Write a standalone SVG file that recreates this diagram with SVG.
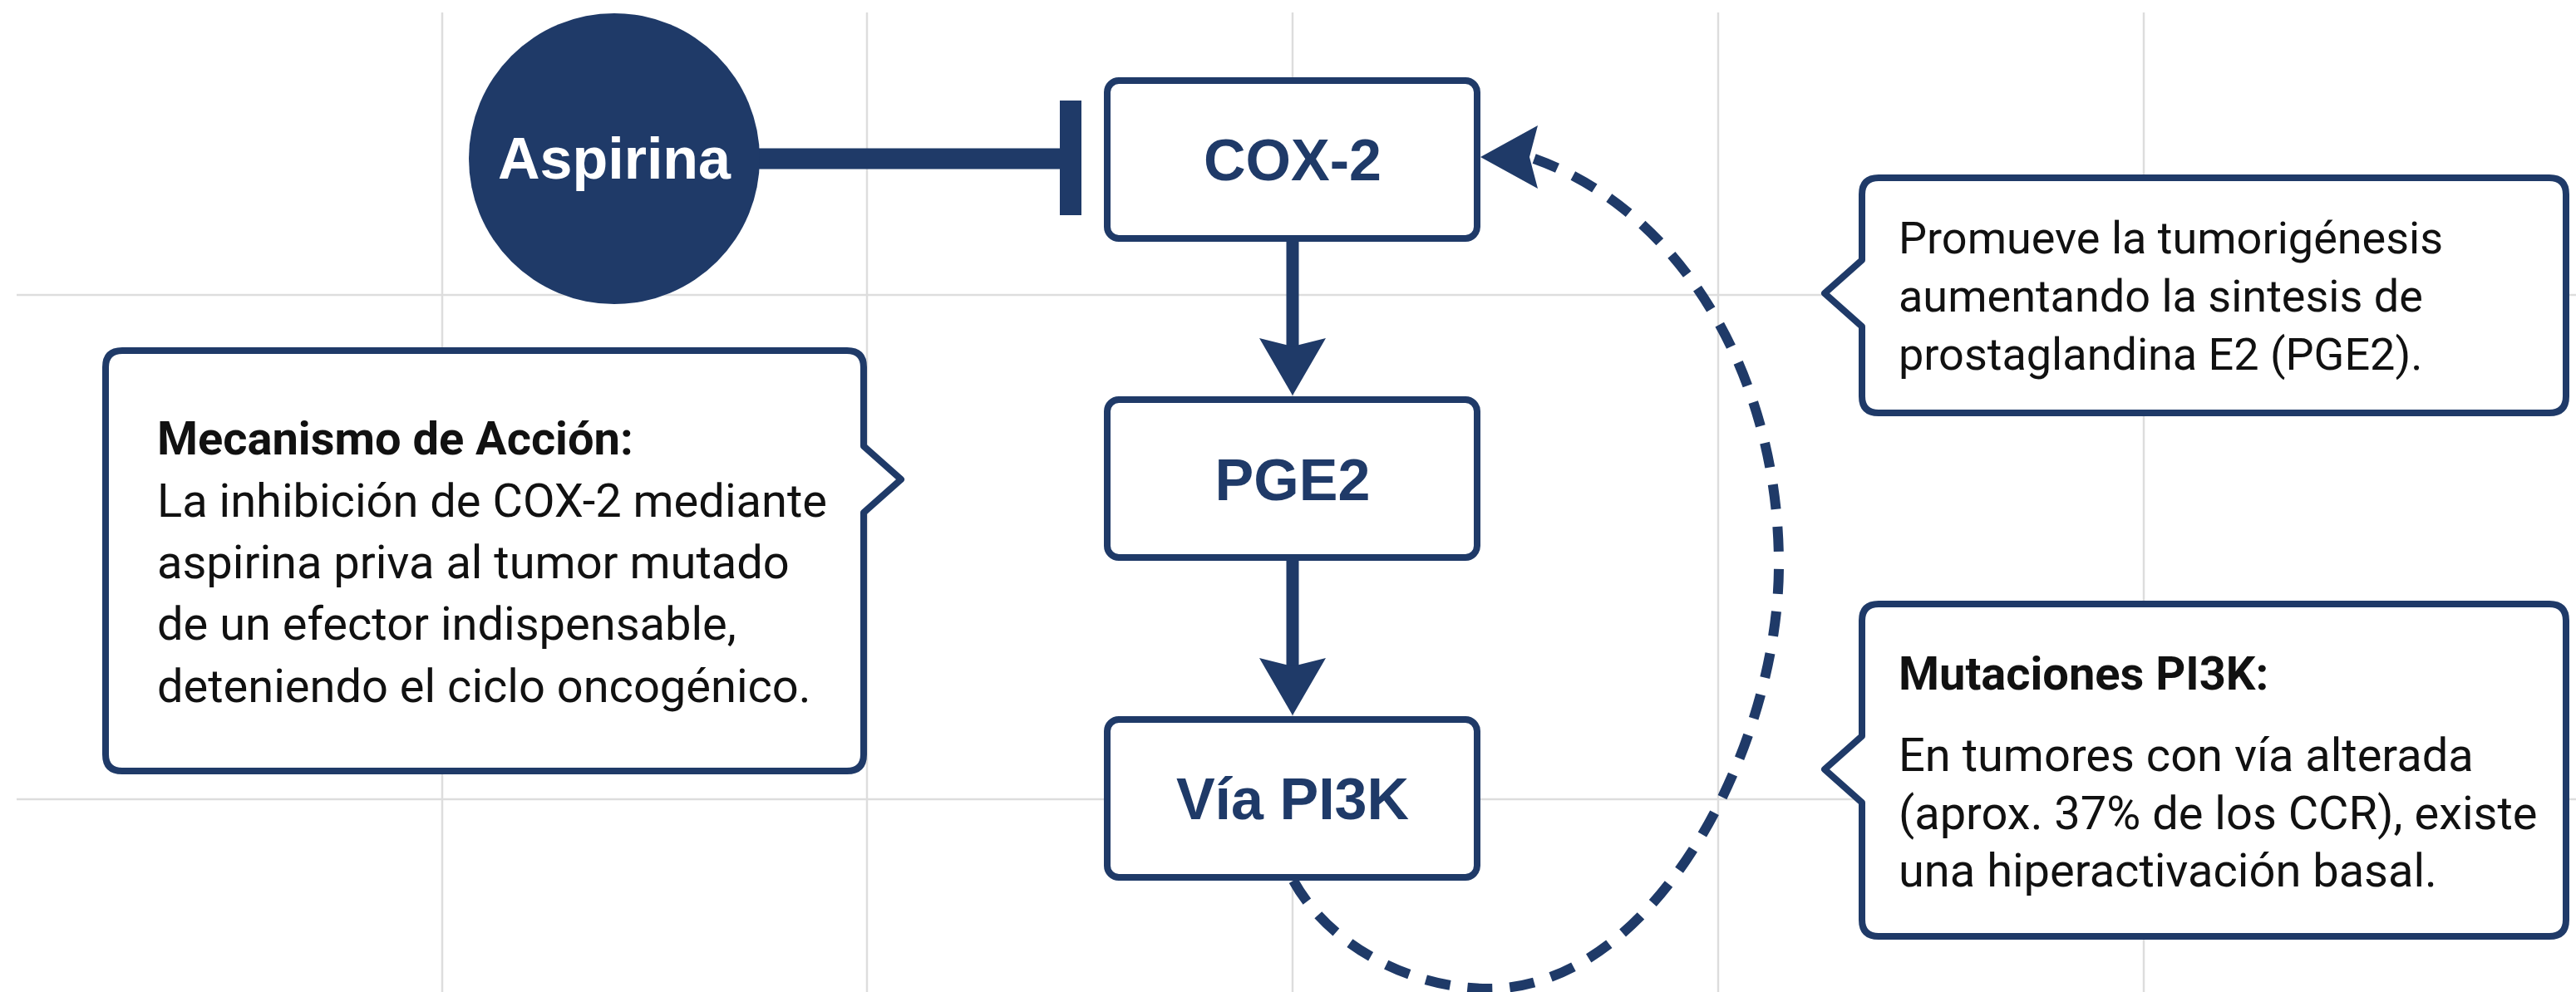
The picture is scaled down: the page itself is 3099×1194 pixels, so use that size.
<svg xmlns="http://www.w3.org/2000/svg" width="3099" height="1194" viewBox="0 0 3099 1194">
  <defs>
    <style>
      .grid line { stroke: #dddddd; stroke-width: 2.5; }
      .box { fill: #ffffff; stroke: #1f3a68; stroke-width: 8; }
      .callout { fill: #ffffff; stroke: #1f3a68; stroke-width: 8; stroke-linejoin: round; }
      .label { font-family: "Liberation Sans", Arial, sans-serif; font-weight: 700; font-size: 70px; fill: #1f3a68; text-anchor: middle; }
      .note { font-family: Roboto, "Liberation Sans", sans-serif; font-size: 56px; fill: #111111; }
      .note.small { font-size: 54px; }
      .note .h { font-weight: 700; }
      .flow { stroke: #1f3a68; stroke-width: 15; fill: none; }
      .inhibit { stroke: #1f3a68; stroke-width: 25; fill: none; }
      .loop { stroke: #1f3a68; stroke-width: 12; fill: none; stroke-dasharray: 30 21; }
      .navy { fill: #1f3a68; }
    </style>
    <!-- notched arrowhead; reference point sits at the notch -->
    <marker id="head" markerUnits="userSpaceOnUse" viewBox="-12 -42 74 84" markerWidth="74" markerHeight="84" refX="0" refY="0" orient="auto">
      <path class="navy" d="M59,0 L-10,-40 L0,0 L-10,40 Z"/>
    </marker>
    <marker id="head-left" markerUnits="userSpaceOnUse" viewBox="-12 -42 74 84" markerWidth="74" markerHeight="84" refX="0" refY="0" orient="180">
      <path class="navy" d="M59,0 L-10,-38 L0,0 L-10,38 Z"/>
    </marker>
  </defs>

  <rect width="3099" height="1194" fill="#ffffff"/>

  <!-- background grid -->
  <g class="grid">
    <line x1="532" y1="15" x2="532" y2="1194"/>
    <line x1="1043" y1="15" x2="1043" y2="1194"/>
    <line x1="1555" y1="15" x2="1555" y2="1194"/>
    <line x1="2067" y1="15" x2="2067" y2="1194"/>
    <line x1="2579" y1="15" x2="2579" y2="1194"/>
    <line x1="20" y1="355" x2="3099" y2="355"/>
    <line x1="20" y1="962" x2="3099" y2="962"/>
  </g>

  <!-- connectors -->
  <g id="connectors">
    <!-- Aspirina inhibits COX-2 -->
    <line class="inhibit" x1="900" y1="191" x2="1280" y2="191"/>
    <rect class="navy" x="1275" y="121" width="26" height="138"/>
    <!-- COX-2 -> PGE2 -->
    <line class="flow" x1="1555" y1="291" x2="1555" y2="417" marker-end="url(#head)"/>
    <!-- PGE2 -> Via PI3K -->
    <line class="flow" x1="1555" y1="675" x2="1555" y2="802" marker-end="url(#head)"/>
    <!-- feedback loop PI3K -> COX-2 -->
    <path class="loop" d="M1556,1060 C1600,1140 1700,1190 1790,1190 C1990,1190 2140,900 2140,680 C2140,450 2020,250 1840,189" marker-end="url(#head-left)"/>
  </g>

  <g id="aspirina">
    <circle class="navy" cx="739" cy="191" r="175"/>
    <text class="label" x="739" y="215" style="fill:#ffffff">Aspirina</text>
  </g>

  <g id="cox2">
    <rect class="box" x="1332" y="97" width="445" height="190" rx="14"/>
    <text class="label" x="1555" y="217">COX-2</text>
  </g>

  <g id="pge2">
    <rect class="box" x="1332" y="481" width="445" height="190" rx="14"/>
    <text class="label" x="1555" y="602">PGE2</text>
  </g>

  <g id="pi3k">
    <rect class="box" x="1332" y="866" width="445" height="190" rx="14"/>
    <text class="label" x="1555" y="986">Vía PI3K</text>
  </g>

  <g id="note-mecanismo">
    <path class="callout" d="M147,422 H1019 Q1039,422 1039,442 V537 L1084,577 L1039,617 V908 Q1039,928 1019,928 H147 Q127,928 127,908 V442 Q127,422 147,422 Z"/>
    <text class="note">
      <tspan class="h" x="189" y="547">Mecanismo de Acción:</tspan>
      <tspan x="189" y="622">La inhibición de COX-2 mediante</tspan>
      <tspan x="189" y="696">aspirina priva al tumor mutado</tspan>
      <tspan x="189" y="770">de un efector indispensable,</tspan>
      <tspan x="189" y="845">deteniendo el ciclo oncogénico.</tspan>
    </text>
  </g>

  <g id="note-pge2">
    <path class="callout" d="M2260,214 H3067 Q3087,214 3087,234 V477 Q3087,497 3067,497 H2260 Q2240,497 2240,477 V393 L2195,353 L2240,313 V234 Q2240,214 2260,214 Z"/>
    <text class="note small">
      <tspan x="2284" y="305">Promueve la tumorigénesis</tspan>
      <tspan x="2284" y="375">aumentando la sintesis de</tspan>
      <tspan x="2284" y="445">prostaglandina E2 (PGE2).</tspan>
    </text>
  </g>

  <g id="note-pi3k">
    <path class="callout" d="M2260,727 H3067 Q3087,727 3087,747 V1107 Q3087,1127 3067,1127 H2260 Q2240,1127 2240,1107 V966 L2195,926 L2240,886 V747 Q2240,727 2260,727 Z"/>
    <text class="note">
      <tspan class="h" x="2284" y="830">Mutaciones PI3K:</tspan>
      <tspan x="2284" y="928">En tumores con vía alterada</tspan>
      <tspan x="2284" y="998">(aprox. 37% de los CCR), existe</tspan>
      <tspan x="2284" y="1067">una hiperactivación basal.</tspan>
    </text>
  </g>
</svg>
